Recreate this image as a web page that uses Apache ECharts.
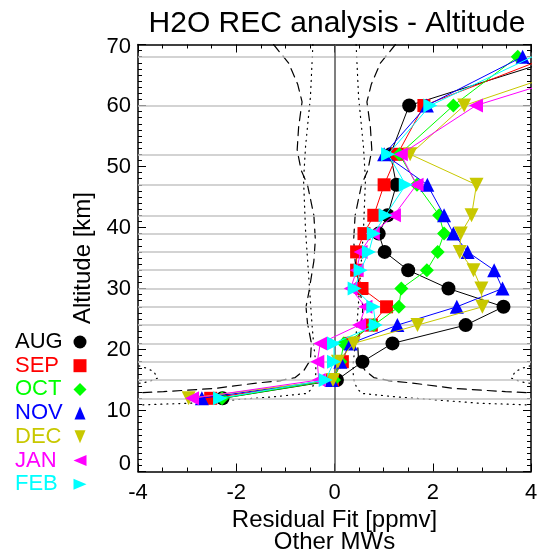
<!DOCTYPE html>
<html>
<head>
<meta charset="utf-8">
<script src="https://cdn.jsdelivr.net/npm/echarts@6/dist/echarts.min.js"></script>
<style>
html,body{margin:0;padding:0;background:#fff;}
#chart{width:541px;height:560px;}
</style>
</head>
<body>
<div id="chart"></div>
<script>
// ---- data ----
const altitudes = [68, 60, 52, 47, 42, 39, 36, 33, 30, 27, 24, 21, 18, 15, 12];
const months = ['AUG', 'SEP', 'OCT', 'NOV', 'DEC', 'JAN', 'FEB'];
const aug = [4.67, 1.52, 1.14, 1.26, 1.08, 0.90, 1.02, 1.50, 2.32, 3.44, 2.67, 1.18, 0.57, 0.05, -2.28];
const sep = [4.38, 1.82, 1.28, 1.01, 0.80, 0.60, 0.45, 0.45, 0.56, 1.06, 0.75, 0.30, 0.16, -0.04, -2.52];
const oct = [3.73, 2.42, 1.32, 1.68, 2.13, 2.23, 2.10, 1.88, 1.36, 1.31, 0.80, 0.19, 0.12, -0.01, -2.29];
const nov = [3.83, 1.88, 1.01, 1.89, 2.23, 2.42, 2.71, 3.25, 3.42, 2.49, 1.28, 0.33, 0.12, -0.06, -2.70];
const dec = [5.58, 2.64, 1.54, 2.89, 2.79, 2.57, 2.55, 2.83, 2.99, 3.01, 1.69, 0.39, 0.07, -0.03, -2.97];
const jan = [6.08, 2.88, 1.35, 1.67, 1.21, 0.78, 0.53, 0.45, 0.33, 0.63, 0.50, -0.29, -0.35, -0.32, -2.90];
const feb = [4.03, 1.95, 1.09, 1.45, 1.04, 0.80, 0.70, 0.53, 0.41, 0.79, 0.84, -0.01, -0.01, -0.18, -2.33];
const monthValues = [aug, sep, oct, nov, dec, jan, feb];

// envelope curves (left side; right side is its mirror)
const dashedEnvelope = [[-1.24,70],[-0.93,66.9],[-0.75,63.5],[-0.66,60.6],[-0.73,56.5],[-0.76,52.7],[-0.68,49.4],[-0.55,47],[-0.42,42],[-0.39,38],[-0.42,34.5],[-0.52,29.5],[-0.58,27],[-0.55,24.3],[-0.47,21],[-0.49,18.3],[-0.62,16.6],[-0.8,15.4],[-1.1,14.9],[-1.58,14.5],[-2.46,13.6],[-3.48,13.1],[-4.0,12.9]];
const dottedEnvelope = [[-0.44,70],[-0.49,61.4],[-0.59,53.2],[-0.63,47.8],[-0.59,39.6],[-0.52,31.4],[-0.46,24.3],[-0.42,20.5],[-0.38,17.8],[-0.38,16.1],[-0.4,14.8],[-0.46,13.6],[-0.56,12.8],[-1.17,12.3],[-2.12,11.7],[-2.94,11.2],[-4.0,10.9]];
const dottedEdge = [[-4.1,17.6],[-3.85,17.0],[-3.68,16.4],[-3.6,15.3],[-3.8,14.7],[-4.1,14.3]];

const xTicks = {min: -4, max: 4, interval: 2};
const yTicks = {min: 0, max: 70, interval: 10};

// ---- styles ----
const colors = ['#000000', '#ff0000', '#00ff00', '#0000ff', '#c8c800', '#ff00ff', '#00ffff'];
const symbols = ['circle', 'rect', 'diamond', 'triangle', 'path://M0,0L2,0L1,2Z', 'path://M2,0L2,2L0,1Z', 'path://M0,0L0,2L2,1Z'];
const FONT = '"Liberation Sans", Arial, Helvetica, sans-serif';

const chart = echarts.init(document.getElementById('chart'), null, {renderer: 'canvas'});

const mirror = arr => arr.map(p => [-p[0], p[1]]);

function axisCommon(extra) {
  return Object.assign({
    type: 'value',
    axisLine: {show: true, onZero: false, lineStyle: {color: '#000', width: 1.5}},
    axisTick: {show: true, inside: true, length: 8, lineStyle: {color: '#000', width: 1}},
    splitLine: {show: false},
  }, extra);
}

const envelopeSeries = [];
function addEnv(data, type) {
  envelopeSeries.push({
    type: 'line', data: data, symbol: 'none', silent: true, clip: true, z: 3,
    lineStyle: {color: '#000', width: 1.2, type: type, cap: 'round'},
    animation: false
  });
}
addEnv(dashedEnvelope, [9, 6]);
addEnv(mirror(dashedEnvelope), [9, 6]);
addEnv(dottedEnvelope, [1, 5]);
addEnv(mirror(dottedEnvelope), [1, 5]);
addEnv(dottedEdge, [1, 5]);
addEnv(mirror(dottedEdge), [1, 5]);

const refSeries = {
  type: 'line', data: [], silent: true, z: 1, animation: false,
  markLine: {
    silent: true, symbol: 'none', animation: false,
    label: {show: false},
    data: altitudes.map(a => ({yAxis: a, lineStyle: {color: '#c4c4c4', width: 1.6, type: 'solid'}}))
      .concat([{xAxis: 0, lineStyle: {color: '#555', width: 1.5, type: 'solid'}}])
  }
};

const monthSeries = months.map((m, k) => ({
  name: m,
  type: 'line',
  data: altitudes.map((a, i) => [monthValues[k][i], a]),
  symbol: symbols[k],
  symbolSize: k === 1 ? 13 : 14,
  clip: true,
  z: 10 + k,
  lineStyle: {color: colors[k], width: 1},
  itemStyle: {color: colors[k], opacity: 1},
  animation: false
}));

// legend drawn as graphic elements
const legendTop = 342, legendStep = 23.7, legendTextX = 15, legendSymX = 80;
function legendSymbol(k, cx, cy) {
  const c = colors[k];
  const s = 6.5;
  let el;
  switch (k) {
    case 0: el = {type: 'circle', shape: {cx, cy, r: s}}; break;
    case 1: el = {type: 'rect', shape: {x: cx - s, y: cy - s, width: 2 * s, height: 2 * s}}; break;
    case 2: el = {type: 'polygon', shape: {points: [[cx, cy - s], [cx + s, cy], [cx, cy + s], [cx - s, cy]]}}; break;
    case 3: el = {type: 'polygon', shape: {points: [[cx, cy - s], [cx + s * 0.85, cy + s], [cx - s * 0.85, cy + s]]}}; break;
    case 4: el = {type: 'polygon', shape: {points: [[cx - s * 0.85, cy - s], [cx + s * 0.85, cy - s], [cx, cy + s]]}}; break;
    case 5: el = {type: 'polygon', shape: {points: [[cx + s, cy - s * 0.85], [cx + s, cy + s * 0.85], [cx - s, cy]]}}; break;
    default: el = {type: 'polygon', shape: {points: [[cx - s, cy - s * 0.85], [cx - s, cy + s * 0.85], [cx + s, cy]]}};
  }
  el.style = {fill: c};
  return el;
}
const legendGraphics = [];
months.forEach((m, k) => {
  const y = legendTop + k * legendStep;
  legendGraphics.push({
    type: 'text', left: legendTextX, top: y - 11,
    style: {text: m, fill: colors[k], font: '22px ' + FONT}
  });
  legendGraphics.push(legendSymbol(k, legendSymX, y));
});

const option = {
  backgroundColor: '#fff',
  animation: false,
  title: {
    text: 'H2O REC analysis - Altitude',
    left: 332, top: 4, textAlign: 'center',
    textStyle: {fontSize: 30, fontWeight: 'normal', color: '#000', fontFamily: FONT}
  },
  grid: {left: 138, top: 44.5, width: 393, height: 427, containLabel: false},
  xAxis: [
    axisCommon(Object.assign({}, xTicks, {
      position: 'bottom',
      minorTick: {show: true, splitNumber: 4, length: 4, lineStyle: {color: '#000'}},
      axisLabel: {fontSize: 22, color: '#000', margin: 10, fontFamily: FONT},
      name: 'Residual Fit [ppmv]\nOther MWs', nameLocation: 'middle', nameGap: 36,
      nameTextStyle: {fontSize: 24, color: '#000', lineHeight: 22, fontFamily: FONT}
    })),
    axisCommon(Object.assign({}, xTicks, {
      position: 'top',
      minorTick: {show: true, splitNumber: 4, length: 4, lineStyle: {color: '#000'}},
      axisLabel: {show: false}
    }))
  ],
  yAxis: [
    axisCommon(Object.assign({}, yTicks, {
      position: 'left',
      minorTick: {show: true, splitNumber: 10, length: 4, lineStyle: {color: '#000'}},
      axisLabel: {
        fontSize: 22, color: '#000', margin: 7, fontFamily: FONT,
        formatter: v => v === yTicks.min ? '{lo|' + v + '}' : (v === yTicks.max ? '{hi|' + v + '}' : String(v)),
        rich: {
          lo: {fontSize: 22, color: '#000', fontFamily: FONT, padding: [0, 0, 15, 0]},
          hi: {fontSize: 22, color: '#000', fontFamily: FONT, padding: [5, 0, 0, 0]}
        }
      },
      name: 'Altitude [km]', nameLocation: 'middle', nameGap: 41,
      nameTextStyle: {fontSize: 24, color: '#000', fontFamily: FONT}
    })),
    axisCommon(Object.assign({}, yTicks, {
      position: 'right',
      minorTick: {show: true, splitNumber: 10, length: 4, lineStyle: {color: '#000'}},
      axisLabel: {show: false}
    }))
  ],
  graphic: legendGraphics,
  series: [refSeries].concat(envelopeSeries, monthSeries)
};
chart.setOption(option);
</script>
</body>
</html>
